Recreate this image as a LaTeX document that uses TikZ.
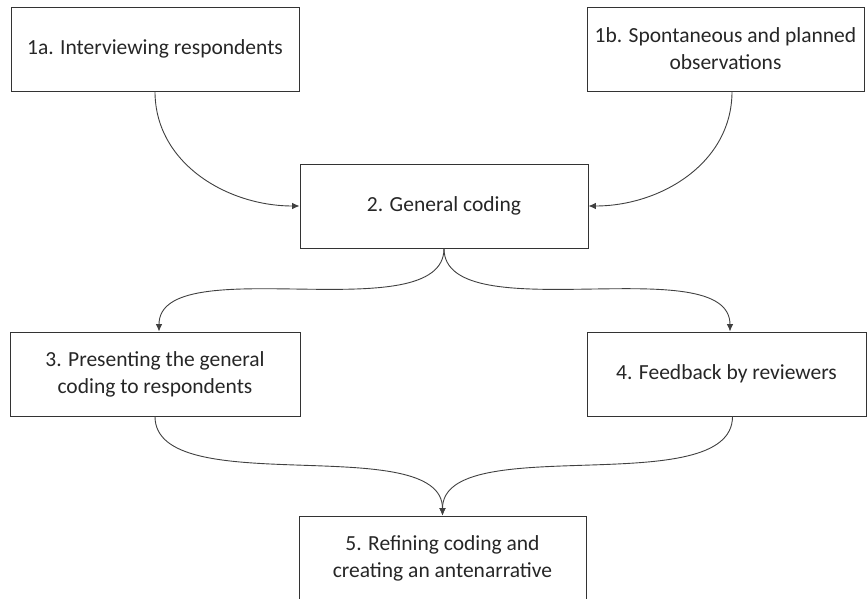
\documentclass[tikz,border=0pt]{standalone}
\usepackage{fontspec}
\setmainfont{Carlito}
\usetikzlibrary{arrows.meta}
\begin{document}
\begin{tikzpicture}[x=1pt,y=-1pt,
  box/.style={draw=black!80, line width=0.9pt, minimum height=84pt, align=center,
    font=\fontsize{21.5}{27}\selectfont, text=black!85, inner sep=0pt},
  conn/.style={draw=black!75, line width=0.9pt, -{Latex[length=7.5pt,width=6.5pt]}}]
\useasboundingbox (0,0) rectangle (868,599);
\node[box, minimum width=288pt] (a1) at (155,49) {1a. Interviewing respondents};
\node[box, minimum width=277pt] (b1) at (725.5,49) {1b. Spontaneous and planned\\observations};
\node[box, minimum width=288pt] (c2) at (444,206) {2. General coding};
\node[box, minimum width=290pt] (d3) at (155,374) {3. Presenting the general\\coding to respondents};
\node[box, minimum width=279pt] (e4) at (726.5,374) {4. Feedback by reviewers};
\node[box, minimum width=287pt] (f5) at (442.5,558) {5. Refining coding and\\creating an antenarrative};
\coordinate (b1s) at ([xshift=6.5pt]b1.south);
\coordinate (d3n) at ([xshift=4pt]d3.north);
\coordinate (e4n) at ([xshift=3.5pt]e4.north);
\coordinate (e4s) at ([xshift=6pt]e4.south);
\draw[conn] (a1.south) to[out=-90,in=180] (c2.west);
\draw[conn] (b1s) to[out=-90,in=0] (c2.east);
\draw[conn] (c2.south) to[out=-90,in=90,looseness=0.72] (d3n);
\draw[conn] (c2.south) to[out=-90,in=90,looseness=0.72] (e4n);
\draw[conn] (d3.south) to[out=-90,in=90,looseness=0.72] (f5.north);
\draw[conn] (e4s) to[out=-90,in=90,looseness=0.72] (f5.north);
\end{tikzpicture}
\end{document}
